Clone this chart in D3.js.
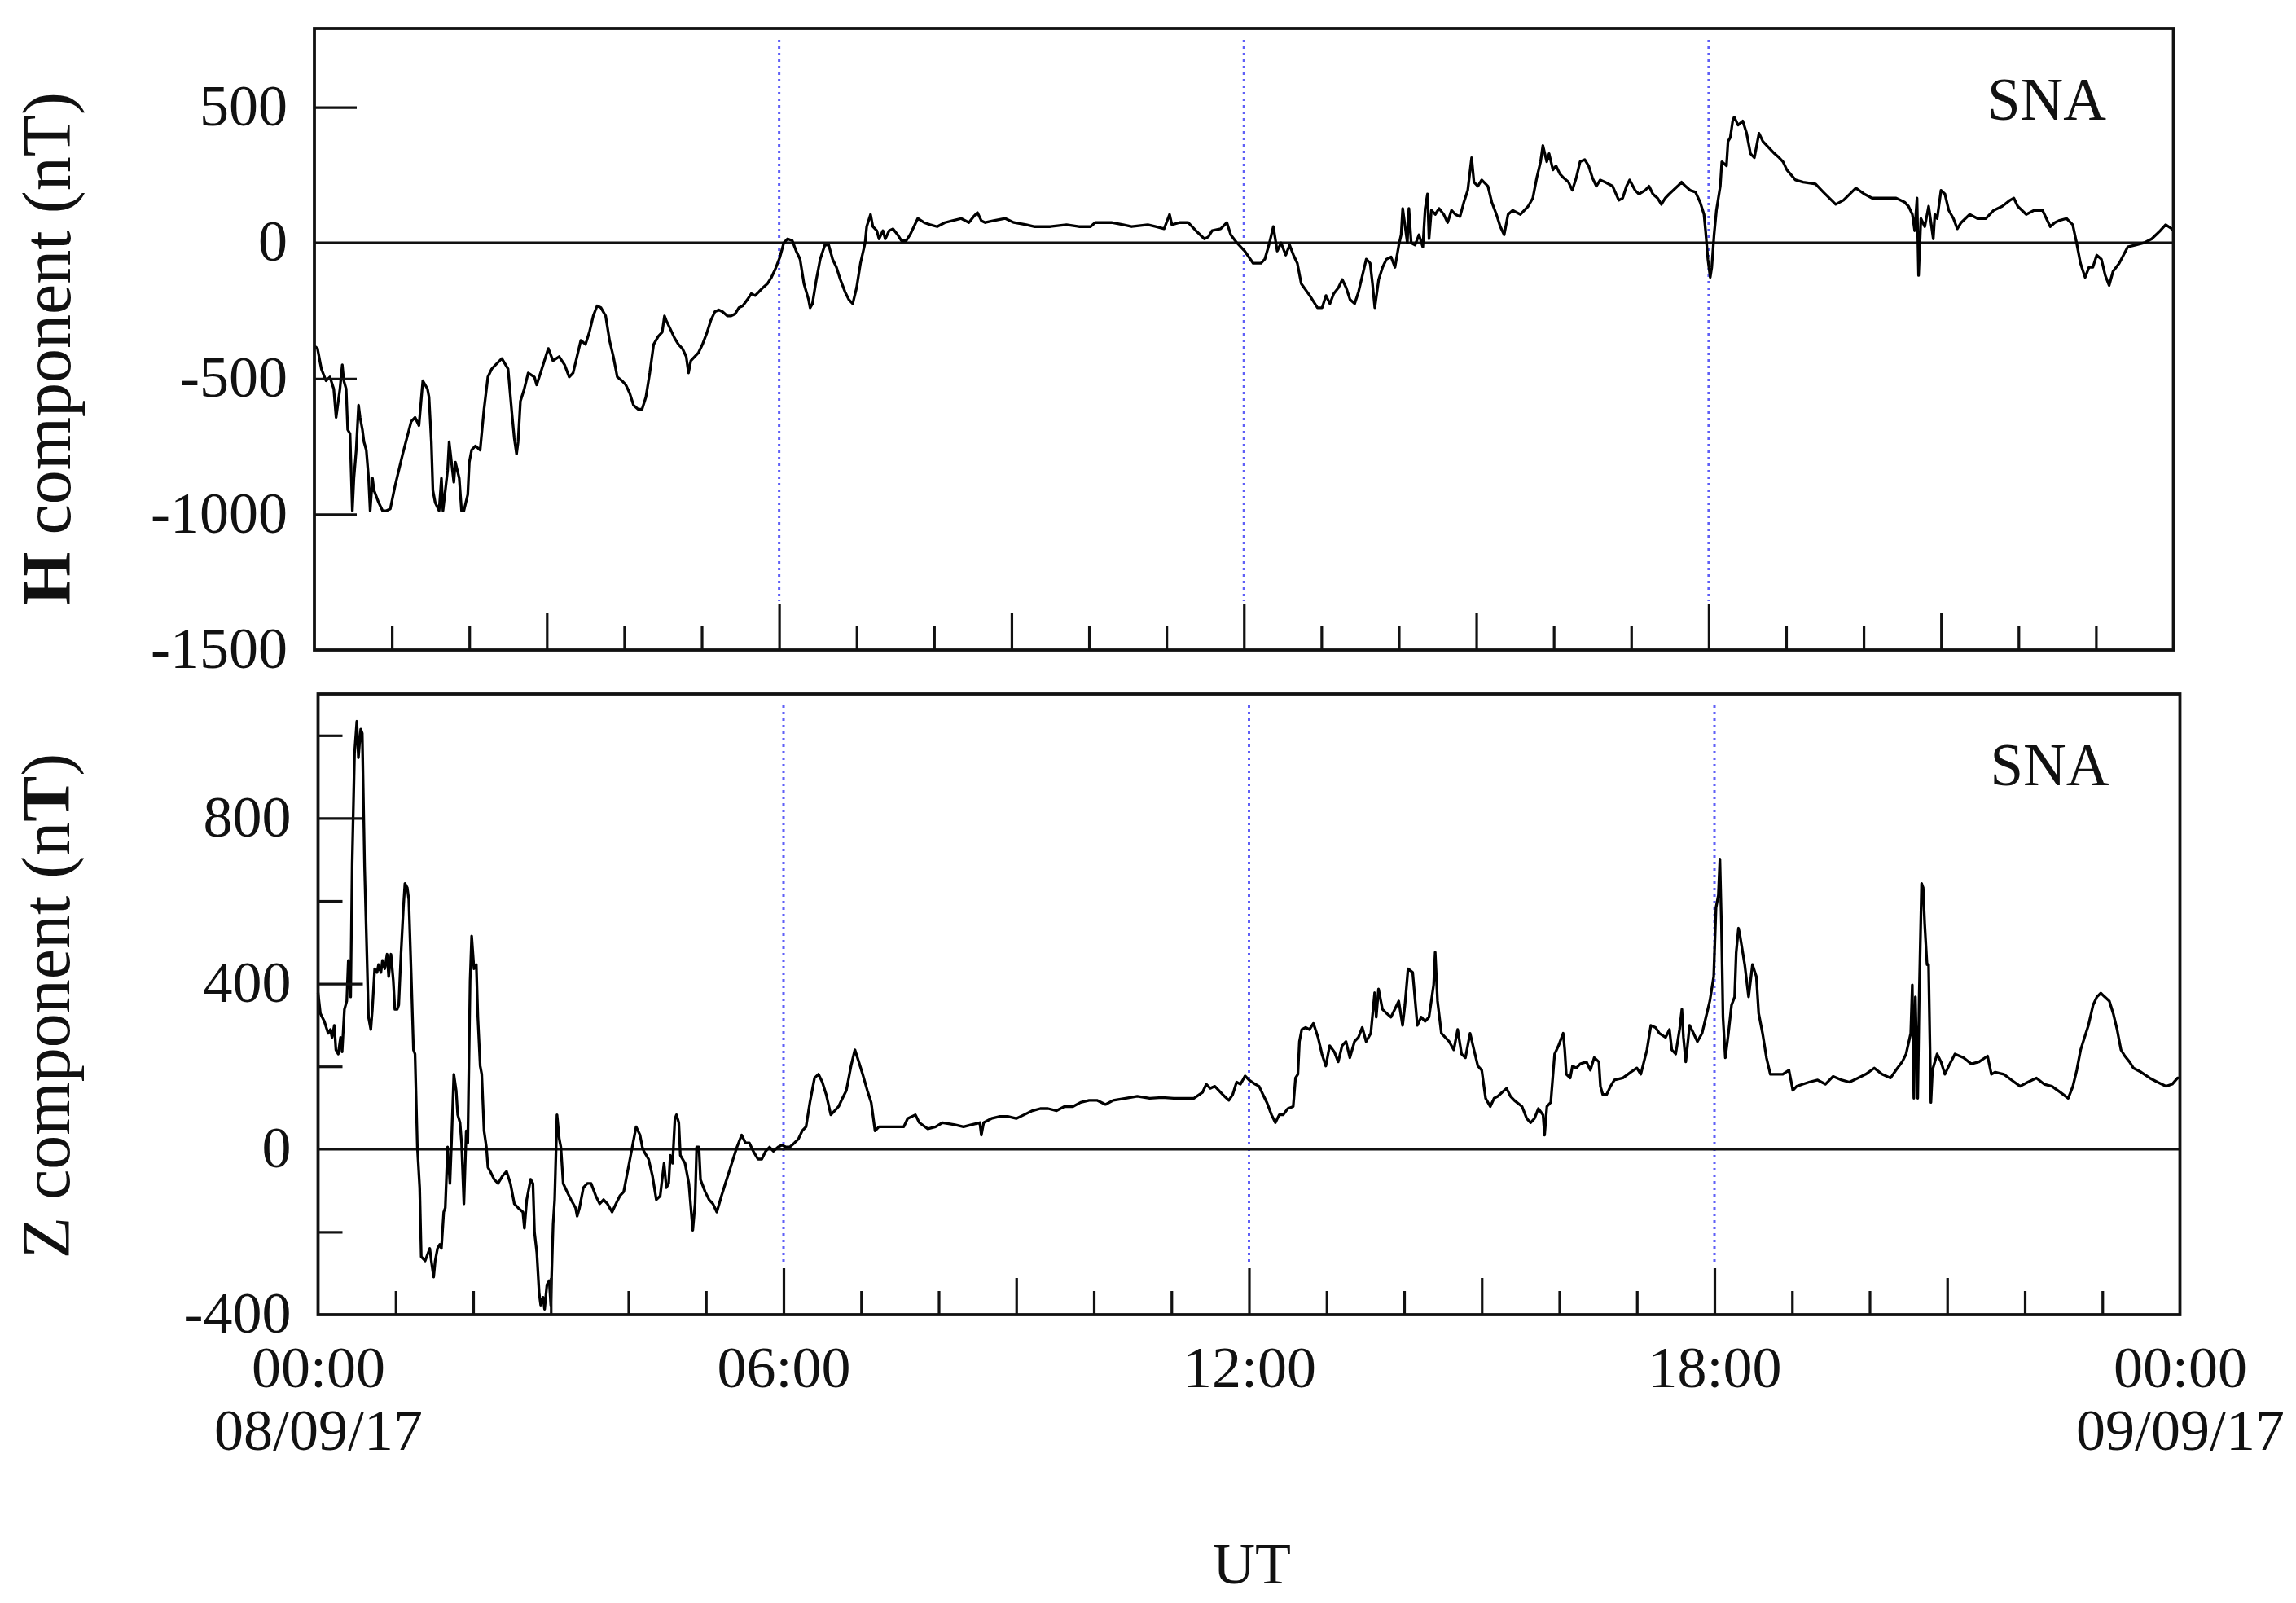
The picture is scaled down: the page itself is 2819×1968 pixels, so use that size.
<!DOCTYPE html>
<html><head><meta charset="utf-8">
<script src="https://cdn.jsdelivr.net/npm/d3@7"></script>
<style>html,body{margin:0;padding:0;background:#fff;} svg{display:block}</style>
</head><body>
<svg id="chart" width="2819" height="1968"></svg>
<script>
// ---- data (hours UT, nT) ----
const hData = [
[0,-380],[0.04,-389],[0.09,-464],[0.15,-508],[0.20,-494],[0.25,-538],[0.28,-643],[0.33,-538],[0.36,-449],[0.38,-508],
[0.41,-538],[0.43,-688],[0.46,-703],[0.49,-987],[0.51,-867],[0.54,-763],[0.57,-598],[0.59,-643],[0.62,-688],[0.64,-733],
[0.67,-763],[0.70,-867],[0.72,-987],[0.75,-867],[0.77,-912],[0.83,-957],[0.88,-987],[0.93,-987],[0.98,-980],[1.04,-897],
[1.14,-778],[1.25,-658],[1.30,-643],[1.35,-673],[1.40,-508],[1.46,-538],[1.48,-568],[1.51,-733],[1.53,-912],[1.56,-957],
[1.61,-987],[1.64,-867],[1.66,-987],[1.72,-838],[1.74,-733],[1.77,-808],[1.80,-882],[1.82,-808],[1.87,-867],[1.90,-987],
[1.93,-987],[1.98,-927],[2.00,-808],[2.03,-763],[2.08,-748],[2.14,-763],[2.19,-613],[2.24,-494],[2.29,-464],[2.34,-449],
[2.42,-426],[2.50,-464],[2.55,-628],[2.58,-718],[2.61,-778],[2.63,-733],[2.66,-583],[2.71,-538],[2.76,-479],[2.84,-494],
[2.87,-523],[2.92,-479],[2.97,-434],[3.02,-389],[3.08,-434],[3.16,-419],[3.23,-449],[3.29,-494],[3.34,-479],[3.39,-419],
[3.44,-359],[3.50,-374],[3.55,-329],[3.60,-269],[3.65,-232],[3.70,-239],[3.76,-269],[3.81,-359],[3.86,-419],[3.91,-494],
[3.97,-508],[4.02,-523],[4.07,-553],[4.12,-598],[4.18,-613],[4.23,-613],[4.28,-568],[4.33,-479],[4.38,-374],[4.44,-344],
[4.49,-329],[4.52,-269],[4.54,-284],[4.59,-314],[4.65,-351],[4.70,-374],[4.75,-389],[4.80,-419],[4.83,-479],[4.86,-434],
[4.91,-419],[4.96,-404],[5.01,-374],[5.07,-329],[5.12,-284],[5.17,-254],[5.22,-247],[5.27,-254],[5.33,-269],[5.38,-269],
[5.43,-262],[5.48,-239],[5.53,-232],[5.59,-209],[5.64,-187],[5.69,-194],[5.74,-180],[5.79,-165],[5.85,-150],[5.90,-127],
[5.95,-97],[6.01,-52],[6.06,0],[6.11,15],[6.17,8],[6.22,-30],[6.27,-60],[6.32,-150],[6.38,-209],[6.40,-239],
[6.43,-224],[6.48,-135],[6.53,-60],[6.59,-8],[6.64,-8],[6.69,-60],[6.74,-90],[6.79,-135],[6.85,-180],[6.90,-209],
[6.95,-224],[7.00,-165],[7.05,-75],[7.11,0],[7.13,60],[7.18,105],[7.21,60],[7.26,45],[7.29,15],[7.34,45],
[7.37,15],[7.42,45],[7.47,52],[7.53,30],[7.58,8],[7.64,8],[7.69,30],[7.79,90],[7.87,75],[7.95,67],
[8.04,60],[8.14,75],[8.24,82],[8.35,90],[8.45,75],[8.51,97],[8.56,112],[8.61,82],[8.66,75],[8.77,82],
[8.92,90],[9.03,75],[9.19,67],[9.29,60],[9.50,60],[9.71,67],[9.87,60],[10.02,60],[10.08,75],[10.29,75],
[10.44,67],[10.55,60],[10.76,67],[10.86,60],[10.97,52],[11.04,105],[11.07,67],[11.17,75],[11.28,75],[11.38,45],
[11.49,15],[11.54,22],[11.59,45],[11.70,52],[11.78,75],[11.83,30],[11.91,0],[12.01,-30],[12.12,-75],[12.22,-75],
[12.27,-60],[12.33,0],[12.38,60],[12.43,-30],[12.48,0],[12.54,-45],[12.59,-8],[12.64,-45],[12.69,-75],[12.74,-150],
[12.85,-194],[12.95,-239],[13.01,-239],[13.06,-194],[13.11,-224],[13.16,-187],[13.22,-165],[13.27,-135],[13.32,-165],[13.37,-209],
[13.43,-224],[13.48,-180],[13.53,-120],[13.58,-60],[13.63,-75],[13.66,-150],[13.69,-239],[13.74,-135],[13.79,-90],[13.84,-60],
[13.90,-52],[13.95,-90],[14.00,-8],[14.03,30],[14.05,127],[14.11,0],[14.13,127],[14.16,0],[14.21,-8],[14.26,30],
[14.31,-15],[14.34,127],[14.37,180],[14.39,15],[14.42,120],[14.47,105],[14.52,127],[14.58,105],[14.63,75],[14.68,120],
[14.73,105],[14.79,97],[14.84,150],[14.89,194],[14.94,314],[14.97,224],[15.02,209],[15.07,232],[15.15,209],[15.20,150],
[15.26,105],[15.31,60],[15.36,30],[15.41,105],[15.47,120],[15.57,105],[15.67,135],[15.73,165],[15.78,239],[15.83,299],
[15.86,359],[15.91,299],[15.94,329],[15.99,269],[16.03,284],[16.08,254],[16.13,239],[16.19,224],[16.24,194],[16.29,239],
[16.34,299],[16.40,307],[16.45,284],[16.50,239],[16.55,209],[16.60,232],[16.66,224],[16.76,209],[16.84,157],[16.89,165],
[16.94,209],[16.98,232],[17.05,194],[17.10,180],[17.18,194],[17.23,209],[17.28,180],[17.34,165],[17.39,142],[17.44,165],
[17.49,180],[17.60,209],[17.65,224],[17.70,209],[17.76,194],[17.83,187],[17.89,150],[17.94,105],[17.96,45],[17.99,-60],
[18.02,-127],[18.04,-90],[18.07,30],[18.10,120],[18.15,209],[18.17,299],[18.23,284],[18.25,374],[18.28,389],[18.31,449],
[18.33,464],[18.38,434],[18.44,449],[18.49,404],[18.54,329],[18.59,314],[18.65,404],[18.70,374],[18.75,359],[18.80,344],
[18.85,329],[18.91,314],[18.96,299],[19.01,269],[19.12,232],[19.22,224],[19.38,217],[19.48,187],[19.64,142],[19.74,157],
[19.90,202],[20.01,180],[20.11,165],[20.22,165],[20.42,165],[20.53,150],[20.58,135],[20.63,105],[20.66,45],[20.69,165],
[20.71,-120],[20.74,90],[20.79,60],[20.84,135],[20.90,15],[20.92,105],[20.95,90],[21.00,194],[21.05,180],[21.10,120],
[21.16,90],[21.21,52],[21.26,75],[21.37,105],[21.47,90],[21.58,90],[21.68,120],[21.79,135],[21.89,157],[21.94,165],
[21.99,135],[22.10,105],[22.20,120],[22.31,120],[22.41,60],[22.47,75],[22.52,82],[22.62,90],[22.70,67],[22.75,0],
[22.80,-75],[22.86,-127],[22.91,-90],[22.96,-90],[23.01,-45],[23.07,-60],[23.12,-120],[23.17,-157],[23.22,-105],[23.30,-75],
[23.41,-15],[23.51,-8],[23.62,0],[23.72,15],[23.83,45],[23.90,67],[23.98,52],[24.00,45]
];
const zData = [
[0,378],[0.03,328],[0.08,309],[0.13,280],[0.16,289],[0.18,270],[0.21,299],[0.23,240],[0.26,230],[0.29,270],
[0.31,235],[0.34,338],[0.37,358],[0.39,456],[0.42,368],[0.44,691],[0.47,956],[0.50,1034],[0.52,946],[0.55,1015],
[0.57,1005],[0.60,681],[0.63,466],[0.65,319],[0.68,289],[0.70,338],[0.73,436],[0.76,427],[0.78,446],[0.81,427],
[0.83,456],[0.86,436],[0.89,471],[0.91,417],[0.94,471],[0.97,407],[0.99,338],[1.02,338],[1.04,348],[1.07,475],
[1.10,583],[1.12,642],[1.15,632],[1.17,603],[1.20,427],[1.23,240],[1.25,230],[1.28,5],[1.31,-93],[1.33,-260],
[1.38,-270],[1.44,-240],[1.46,-270],[1.49,-309],[1.51,-270],[1.54,-240],[1.57,-230],[1.59,-240],[1.62,-152],[1.64,-142],
[1.67,5],[1.70,-83],[1.72,15],[1.75,181],[1.78,142],[1.80,83],[1.83,64],[1.85,15],[1.88,-132],[1.91,44],
[1.93,15],[1.96,407],[1.98,515],[2.01,436],[2.04,446],[2.06,319],[2.09,201],[2.11,181],[2.14,44],[2.17,5],
[2.19,-44],[2.22,-54],[2.27,-73],[2.32,-83],[2.38,-64],[2.43,-54],[2.48,-83],[2.53,-132],[2.58,-142],[2.64,-152],
[2.66,-191],[2.69,-122],[2.74,-73],[2.77,-83],[2.79,-201],[2.82,-250],[2.85,-348],[2.87,-377],[2.90,-358],[2.92,-387],
[2.95,-328],[2.98,-318],[3.00,-377],[3.03,-181],[3.05,-122],[3.08,83],[3.11,24],[3.13,5],[3.16,-83],[3.21,-103],
[3.26,-122],[3.32,-142],[3.34,-162],[3.37,-142],[3.42,-93],[3.47,-83],[3.52,-83],[3.58,-113],[3.63,-132],[3.68,-122],
[3.73,-132],[3.79,-152],[3.84,-132],[3.89,-113],[3.94,-103],[3.99,-54],[4.05,5],[4.10,54],[4.15,34],[4.18,5],
[4.20,-5],[4.26,-24],[4.31,-64],[4.36,-122],[4.41,-113],[4.46,-34],[4.49,-93],[4.52,-83],[4.54,-15],[4.57,-34],
[4.60,73],[4.62,83],[4.65,64],[4.67,-15],[4.73,-34],[4.78,-83],[4.83,-196],[4.86,-132],[4.88,5],[4.91,5],
[4.93,-74],[4.99,-103],[5.04,-122],[5.09,-132],[5.14,-152],[5.20,-113],[5.25,-83],[5.30,-54],[5.35,-24],[5.40,5],
[5.46,34],[5.51,15],[5.56,15],[5.61,-5],[5.67,-24],[5.72,-24],[5.77,-5],[5.82,5],[5.87,-5],[5.93,5],
[5.98,10],[6.03,5],[6.08,5],[6.14,15],[6.19,24],[6.24,44],[6.29,54],[6.34,113],[6.40,172],[6.45,181],
[6.50,162],[6.55,132],[6.61,83],[6.66,93],[6.71,103],[6.76,123],[6.81,142],[6.87,201],[6.92,240],[6.97,211],
[7.02,181],[7.08,142],[7.13,113],[7.18,44],[7.23,54],[7.34,54],[7.44,54],[7.55,54],[7.60,74],[7.70,83],
[7.75,64],[7.86,49],[7.96,54],[8.05,64],[8.21,59],[8.32,54],[8.42,59],[8.53,64],[8.55,34],[8.58,64],
[8.68,74],[8.79,79],[8.89,79],[9.00,74],[9.10,83],[9.21,93],[9.31,98],[9.41,98],[9.52,93],[9.62,103],
[9.73,103],[9.83,113],[9.94,118],[10.04,118],[10.15,108],[10.25,118],[10.41,123],[10.56,128],[10.72,123],[10.88,125],
[11.03,123],[11.19,123],[11.29,123],[11.40,137],[11.45,157],[11.50,147],[11.56,152],[11.66,132],[11.74,118],[11.79,132],
[11.84,162],[11.89,157],[11.95,177],[12.00,167],[12.08,157],[12.13,152],[12.18,132],[12.23,113],[12.29,83],[12.34,64],
[12.39,83],[12.44,83],[12.50,98],[12.57,103],[12.60,172],[12.63,181],[12.65,260],[12.68,289],[12.73,294],[12.78,289],
[12.83,304],[12.89,270],[12.94,230],[12.99,201],[13.04,250],[13.10,235],[13.15,211],[13.20,250],[13.25,260],[13.30,221],
[13.36,260],[13.41,270],[13.46,294],[13.51,260],[13.57,280],[13.62,378],[13.64,319],[13.67,387],[13.72,338],[13.77,329],
[13.83,319],[13.88,338],[13.93,358],[13.98,299],[14.01,348],[14.05,436],[14.11,427],[14.17,299],[14.22,319],[14.27,309],
[14.32,319],[14.38,397],[14.40,476],[14.43,358],[14.48,280],[14.53,270],[14.58,260],[14.64,240],[14.69,289],[14.74,230],
[14.79,221],[14.85,280],[14.90,240],[14.95,201],[15.00,191],[15.05,123],[15.11,103],[15.16,123],[15.21,128],[15.26,137],
[15.32,147],[15.37,128],[15.42,118],[15.52,103],[15.58,74],[15.63,64],[15.68,74],[15.73,98],[15.79,83],[15.81,34],
[15.84,103],[15.89,113],[15.94,230],[15.99,250],[16.05,280],[16.07,240],[16.09,181],[16.14,172],[16.17,201],[16.22,196],
[16.27,206],[16.35,211],[16.40,191],[16.45,221],[16.51,211],[16.53,152],[16.56,132],[16.61,132],[16.66,152],[16.71,167],
[16.82,172],[16.92,186],[17.00,196],[17.05,181],[17.13,240],[17.18,299],[17.24,294],[17.29,280],[17.37,270],[17.42,289],
[17.45,240],[17.50,230],[17.55,289],[17.58,338],[17.60,270],[17.63,211],[17.68,299],[17.73,280],[17.78,260],[17.84,280],
[17.89,319],[17.94,358],[17.99,417],[18.02,584],[18.05,613],[18.07,701],[18.09,544],[18.11,319],[18.14,221],[18.18,280],
[18.22,348],[18.26,368],[18.28,475],[18.31,534],[18.33,515],[18.39,446],[18.44,368],[18.49,446],[18.54,417],[18.57,328],
[18.62,280],[18.67,221],[18.72,181],[18.80,181],[18.88,181],[18.96,191],[18.99,162],[19.01,142],[19.06,152],[19.14,157],
[19.22,162],[19.33,167],[19.43,157],[19.53,176],[19.64,167],[19.74,162],[19.85,172],[19.95,181],[20.06,196],[20.16,181],
[20.27,172],[20.34,191],[20.42,211],[20.47,230],[20.53,280],[20.55,397],[20.57,123],[20.59,368],[20.62,123],[20.64,377],
[20.66,554],[20.67,642],[20.69,632],[20.71,544],[20.74,446],[20.76,446],[20.79,113],[20.81,191],[20.87,230],[20.92,211],
[20.97,181],[21.02,201],[21.10,230],[21.21,221],[21.31,206],[21.41,211],[21.52,225],[21.57,181],[21.62,186],[21.73,181],
[21.83,167],[21.94,152],[22.04,162],[22.15,172],[22.25,157],[22.35,152],[22.46,137],[22.56,123],[22.62,152],[22.67,191],
[22.72,240],[22.77,270],[22.82,299],[22.88,348],[22.93,368],[22.98,377],[23.03,368],[23.09,358],[23.14,328],[23.19,289],
[23.24,240],[23.29,225],[23.35,211],[23.40,196],[23.50,186],[23.61,172],[23.71,162],[23.82,152],[23.90,157],[23.97,172],
[24.00,172]
];
const hTickLabels = [500, 0, -500, -1000, -1500];
const hTickMarks = [500, -500, -1000];
const zTickLabels = [800, 400, 0, -400];
const zMajorTicks = [800, 400];
const zMinorTicks = [1000, 600, 200, -200];
const hourMinor = [1,2,4,5,7,8,10,11,13,14,16,17,19,20,22,23];
const hourMid = [3,9,15,21];
const hourMajor = [6,12,18];
const timeValues = [0,6,12,18,24];
const timeLabels = ["00:00","06:00","12:00","18:00","00:00"];
const dateLabels = {0:"08/09/17", 24:"09/09/17"};
const hTitle = ["H", " component (nT)"];
const zTitle = ["Z component (n", "T", ")"];
const stationLabel = "SNA";
const xTitle = "UT";

// ---- drawing ----
const FONT = "'Liberation Serif','Times New Roman',Times,serif";
const svg = d3.select("#chart");
svg.append("rect").attr("width",2819).attr("height",1968).attr("fill","#fff");

function panel(cfg){
  const x = d3.scaleLinear().domain([0,24]).range([cfg.x0,cfg.x1]);
  const y = d3.scaleLinear().domain(cfg.domain).range([cfg.y1,cfg.y0]);
  const g = svg.append("g");

  // blue dotted hour lines
  g.selectAll("line.vdot").data(hourMajor).join("line")
    .attr("x1",d=>x(d)).attr("x2",d=>x(d))
    .attr("y1",cfg.y0+14).attr("y2",cfg.y1-60)
    .attr("stroke","#5f5ff7").attr("stroke-width",3).attr("stroke-dasharray","3,5");

  // zero line
  g.append("line").attr("x1",cfg.x0).attr("x2",cfg.x1).attr("y1",y(0)).attr("y2",y(0))
    .attr("stroke","#111").attr("stroke-width",3.2);

  // data
  const line = d3.line().x(d=>x(d[0])).y(d=>y(d[1]));
  g.append("path").datum(cfg.data).attr("d",line).attr("fill","none")
    .attr("stroke","#000").attr("stroke-width",3.3).attr("stroke-linejoin","round");

  // x ticks (inward from bottom)
  const tickSets = [[hourMinor,29],[hourMid,45],[hourMajor,57]];
  tickSets.forEach(([vals,len])=>{
    const ax = g.append("g").attr("transform",`translate(0,${cfg.y1})`)
      .call(d3.axisBottom(x).tickValues(vals).tickSizeInner(-len).tickSizeOuter(0).tickFormat(""));
    ax.select(".domain").remove();
    ax.selectAll("line").attr("stroke","#111").attr("stroke-width",3.2);
  });

  // y ticks (inward from left)
  cfg.yTicks.forEach(([vals,len])=>{
    const ay = g.append("g").attr("transform",`translate(${cfg.x0},0)`)
      .call(d3.axisLeft(y).tickValues(vals).tickSizeInner(-len).tickSizeOuter(0).tickFormat(""));
    ay.select(".domain").remove();
    ay.selectAll("line").attr("stroke","#111").attr("stroke-width",3.2);
  });

  // y labels
  const yl = g.append("g").attr("transform",`translate(${cfg.x0},0)`)
    .call(d3.axisLeft(y).tickValues(cfg.yLabels).tickSize(0).tickPadding(33).tickFormat(d=>String(d)));
  yl.select(".domain").remove();
  yl.attr("font-family",FONT).attr("font-size",72);
  yl.selectAll("text").attr("fill","#111").attr("dy","0.3em");

  // frame
  g.append("rect").attr("x",cfg.x0).attr("y",cfg.y0).attr("width",cfg.x1-cfg.x0).attr("height",cfg.y1-cfg.y0)
    .attr("fill","none").attr("stroke","#111").attr("stroke-width",3.8);

  // station label
  g.append("text").attr("x",cfg.x0+cfg.stX).attr("y",cfg.stY).attr("font-family",FONT).attr("font-size",73)
    .attr("fill","#111").text(stationLabel);

  // y title
  const t = g.append("text").attr("transform",`translate(${cfg.tX},${cfg.tY}) rotate(-90)`)
    .attr("text-anchor","middle").attr("font-family",FONT).attr("font-size",84).attr("fill","#111");
  cfg.title.forEach((s,i)=>{
    t.append("tspan").attr("font-weight", cfg.boldIdx===i ? "bold" : "normal").text(s);
  });

  if (cfg.xLabels){
    const xl = g.append("g").attr("transform",`translate(0,${cfg.y1})`)
      .call(d3.axisBottom(x).tickValues(timeValues).tickSize(0).tickPadding(38)
        .tickFormat((d,i)=>timeLabels[i]));
    xl.select(".domain").remove();
    xl.attr("font-family",FONT).attr("font-size",72);
    xl.selectAll("text").attr("fill","#111").each(function(d){
      if (dateLabels[d]) d3.select(this).append("tspan").attr("x",0).attr("dy",77).text(dateLabels[d]);
    });
  }
  return {x,y};
}

panel({x0:386, x1:2668.5, y0:35, y1:798, domain:[-1500,790], data:hData,
  yTicks:[[hTickMarks,52]], yLabels:hTickLabels, stX:2054, stY:147,
  title:hTitle, boldIdx:0, tX:86, tY:428, xLabels:false});

panel({x0:390.5, x1:2676.5, y0:852, y1:1614, domain:[-400,1100], data:zData,
  yTicks:[[zMajorTicks,55],[zMinorTicks,30]], yLabels:zTickLabels, stX:2053, stY:964,
  title:zTitle, boldIdx:1, tX:85, tY:1235, xLabels:true});

svg.append("text").attr("x",1537).attr("y",1944).attr("text-anchor","middle")
  .attr("font-family",FONT).attr("font-size",72).attr("fill","#111").text(xTitle);
</script>
</body></html>
